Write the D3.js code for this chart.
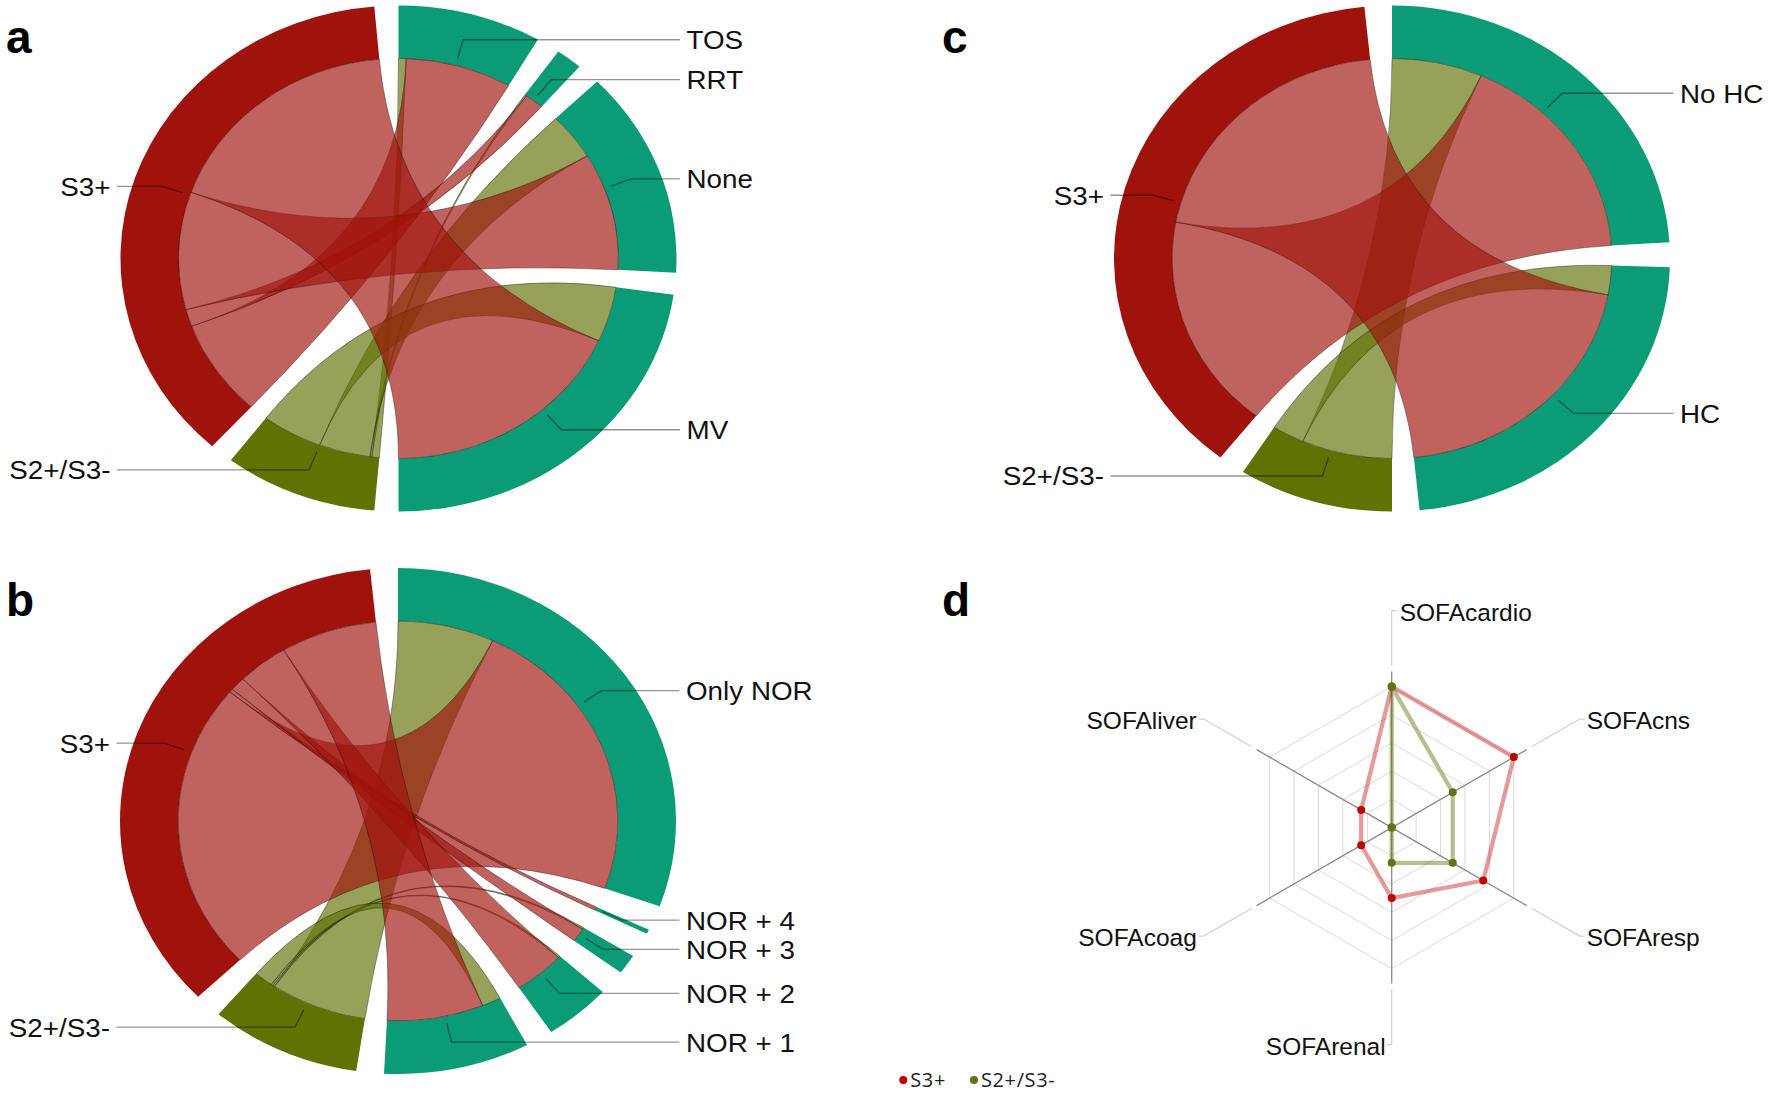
<!DOCTYPE html>
<html>
<head>
<meta charset="utf-8">
<script src="https://cdn.jsdelivr.net/npm/d3@7"></script>
<style>
  html, body { margin: 0; padding: 0; background: #fff; }
  svg { display: block; }
</style>
</head>
<body>
<svg id="fig" width="1770" height="1102"></svg>
<script>
// ================= DATA =================
// Panel a: outcomes vs. septic shock definition
const panelAOutcomes = ["TOS", "RRT", "None", "MV"];
const panelAS3 = [56, 10, 68, 131];   // S3+ -> outcome
const panelAS2 = [4, 1, 27, 32];      // S2+/S3- -> outcome

// Panel b: noradrenaline / vasopressor combinations
const panelBOutcomes = ["Only NOR", "NOR + 4", "NOR + 3", "NOR + 2", "NOR + 1"];
const panelBS3 = [168, 2, 8, 27, 51];
const panelBS2 = [51, 0, 1, 1, 10];

// Panel c: hydrocortisone
const panelCOutcomes = ["No HC", "HC"];
const panelCS3 = [125, 148];
const panelCS2 = [48, 17];

const shockGroups = ["S2+/S3-", "S3+"];

// Panel d: radar of SOFA sub-scores
const radarAxes = ["SOFAcardio", "SOFAcns", "SOFAresp", "SOFArenal", "SOFAcoag", "SOFAliver"];
const radarS3 = [4, 4, 3, 2, 1, 1];
const radarS2 = [4, 2, 2, 1, 0, 0];
const radarTicks = [0.8, 1.6, 2.4, 3.2, 4.0];
const radarMax = 4;
const legendLabels = ["S3+", "S2+/S3-"];

// ================= STYLE =================
const C_S3 = "#A0120C";
const C_S2 = "#617104";
const C_TEAL = "#0B9B76";
const FONT = "'Liberation Sans', Arial, Helvetica, sans-serif";

const svg = d3.select("#fig");

// ================= CHORD PANELS =================
function chordPanel(cfg) {
  const { outcomes, s2, s3, cx, cy, padDeg } = cfg;
  const n = outcomes.length + 2;
  const iS2 = n - 2, iS3 = n - 1;
  const M = Array.from({ length: n }, () => new Array(n).fill(0));
  outcomes.forEach((o, i) => {
    M[i][iS2] = M[iS2][i] = s2[i];
    M[i][iS3] = M[iS3][i] = s3[i];
  });
  const names = outcomes.concat(shockGroups);
  const colorOf = i => (i === iS3 ? C_S3 : i === iS2 ? C_S2 : C_TEAL);

  const chords = d3.chord().padAngle(padDeg * Math.PI / 180)(M);
  const Rout = 253, Rin = 200, Rmid = (Rout + Rin) / 2;
  const sx = 278 / 253;

  const root = svg.append("g");
  const g = root.append("g").attr("transform", `translate(${cx},${cy}) scale(${sx},1)`);

  const arc = d3.arc().innerRadius(Rin).outerRadius(Rout);
  const ribbon = d3.ribbon().radius(Rin);

  // outer group arcs
  g.append("g").selectAll("path")
    .data(chords.groups)
    .join("path")
    .attr("d", arc)
    .attr("fill", d => colorOf(d.index));

  // ribbons: S2+/S3- first, S3+ on top
  const sIdx = c => Math.max(c.source.index, c.target.index);
  const list = Array.from(chords).sort((a, b) => sIdx(a) - sIdx(b));
  g.append("g").selectAll("path")
    .data(list)
    .join("path")
    .attr("d", ribbon)
    .attr("fill", d => colorOf(sIdx(d)))
    .attr("fill-opacity", 0.66)
    .attr("stroke", "#000")
    .attr("stroke-opacity", 0.45)
    .attr("stroke-width", 0.8)
    .attr("vector-effect", "non-scaling-stroke");

  // leader lines + labels
  const lab = root.append("g");
  chords.groups.forEach(grp => {
    const th = (grp.startAngle + grp.endAngle) / 2;
    const s = Math.sin(th), c = Math.cos(th);
    const r0 = Rin * 1.035;
    const p0 = [cx + sx * r0 * s, cy - r0 * c];
    const p1 = [cx + sx * Rmid * s, cy - Rmid * c];
    const right = s > 0;
    const p2 = [cx + (right ? 281.5 : -281.5), p1[1]];
    lab.append("polyline")
      .attr("points", [p0, p1, p2].map(p => p.join(",")).join(" "))
      .attr("fill", "none")
      .attr("stroke", "#000")
      .attr("stroke-opacity", 0.42)
      .attr("stroke-width", 1.3);
    lab.append("text")
      .attr("transform", `translate(${cx + (right ? 288 : -288)},${p1[1]}) scale(1.07,1)`)
      .attr("dy", "0.36em")
      .attr("text-anchor", right ? "start" : "end")
      .attr("font-family", FONT)
      .attr("font-size", 26)
      .attr("fill", "#111")
      .text(names[grp.index]);
  });
}

chordPanel({ outcomes: panelAOutcomes, s2: panelAS2, s3: panelAS3, cx: 398.5, cy: 258.5, padDeg: 5.0 });
chordPanel({ outcomes: panelBOutcomes, s2: panelBS2, s3: panelBS3, cx: 398, cy: 821, padDeg: 5.77 });
chordPanel({ outcomes: panelCOutcomes, s2: panelCS2, s3: panelCS3, cx: 1392, cy: 258.5, padDeg: 5.7 });

// ================= RADAR PANEL =================
(function radar() {
  const cx = 1391.7, cy = 827.6;
  const R = 141;
  const rScale = d3.scaleLinear().domain([0, radarMax]).range([0, R]);
  const angle = i => i * Math.PI / 3; // clockwise from top
  const pt = (i, r) => [cx + r * Math.sin(angle(i)), cy - r * Math.cos(angle(i))];
  const g = svg.append("g");

  // grid hexagons
  radarTicks.forEach(t => {
    const pts = radarAxes.map((a, i) => pt(i, rScale(t)));
    g.append("polygon")
      .attr("points", pts.map(p => p.join(",")).join(" "))
      .attr("fill", "none")
      .attr("stroke", "#dadada")
      .attr("stroke-width", 1);
  });

  // axes + label leaders + labels
  radarAxes.forEach((name, i) => {
    const pEnd = pt(i, 156);
    g.append("line")
      .attr("x1", cx).attr("y1", cy).attr("x2", pEnd[0]).attr("y2", pEnd[1])
      .attr("stroke", "#8a8a8a").attr("stroke-width", 1.3);
    const q0 = pt(i, 162), q1 = pt(i, 217);
    const s = Math.sin(angle(i));
    let dir;
    if (Math.abs(s) < 1e-6) dir = Math.cos(angle(i)) > 0 ? 1 : -1; // top -> right, bottom -> left
    else dir = s > 0 ? 1 : -1;
    g.append("polyline")
      .attr("points", [q0, q1, [q1[0] + dir * 5, q1[1]]].map(p => p.join(",")).join(" "))
      .attr("fill", "none")
      .attr("stroke", "#d2d2d2")
      .attr("stroke-width", 1.2);
    const off = Math.abs(s) < 1e-6 ? (dir > 0 ? 8 : 6) : 7;
    g.append("text")
      .attr("x", q1[0] + dir * off)
      .attr("y", q1[1] + 1.5)
      .attr("dy", "0.36em")
      .attr("text-anchor", dir > 0 ? "start" : "end")
      .attr("font-family", FONT)
      .attr("font-size", 24.5)
      .attr("fill", "#111")
      .text(name);
  });

  const line = d3.line();
  function series(vals, stroke, strokeOp, dotColor) {
    const pts = vals.map((v, i) => pt(i, rScale(v)));
    g.append("path")
      .attr("d", line(pts) + "Z")
      .attr("fill", "none")
      .attr("stroke", stroke)
      .attr("stroke-opacity", strokeOp)
      .attr("stroke-width", 4.2)
      .attr("stroke-linejoin", "round");
    g.append("g").selectAll("circle")
      .data(pts)
      .join("circle")
      .attr("cx", d => d[0]).attr("cy", d => d[1]).attr("r", 4)
      .attr("fill", dotColor);
  }
  series(radarS3, "#c00000", 0.4, "#c00000");
  series(radarS2, "#617104", 0.45, "#5f7414");

  // legend
  const leg = svg.append("g");
  const legX = [903.3, 974];
  const legC = ["#c00000", "#5f7414"];
  legendLabels.forEach((t, i) => {
    leg.append("circle").attr("cx", legX[i]).attr("cy", 1080).attr("r", 4).attr("fill", legC[i]);
    leg.append("text")
      .attr("x", legX[i] + 7).attr("y", 1080)
      .attr("dy", "0.36em")
      .attr("font-family", "'Open Sans', 'DejaVu Sans', sans-serif")
      .attr("font-size", 20)
      .attr("letter-spacing", 0.6)
      .attr("fill", "#222")
      .text(t);
  });
})();

// ================= PANEL LETTERS =================
[["a", 6, 53], ["b", 6, 616], ["c", 942, 53], ["d", 942, 616]].forEach(([t, x, y]) => {
  svg.append("text")
    .attr("x", x).attr("y", y)
    .attr("font-family", FONT)
    .attr("font-weight", "bold")
    .attr("font-size", 46)
    .attr("fill", "#000")
    .text(t);
});
</script>
</body>
</html>
